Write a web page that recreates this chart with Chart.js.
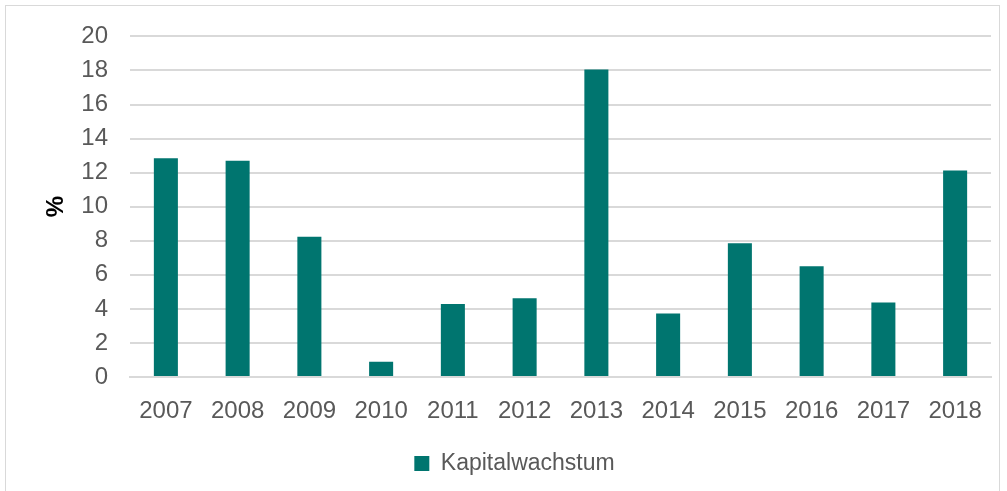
<!DOCTYPE html>
<html>
<head>
<meta charset="utf-8">
<script src="https://cdn.jsdelivr.net/npm/chart.js@4.4.1/dist/chart.umd.min.js"></script>
<style>
  html, body { margin: 0; padding: 0; background: #fff; }
  #wrap { position: relative; width: 1007px; height: 491px; overflow: hidden; }
  #frame { position: absolute; left: 5px; top: 5px; width: 995px; height: 500px; border: 1px solid #d9d9d9; box-sizing: border-box; }
  #kapital { position: absolute; left: 0; top: 0; }
</style>
</head>
<body>
<div id="wrap">
  <div id="frame"></div>
  <canvas id="kapital" width="1007" height="491"></canvas>
</div>
<script>
// Kapitalwachstum pro Jahr in %
const years = ["2007", "2008", "2009", "2010", "2011", "2012", "2013", "2014", "2015", "2016", "2017", "2018"];
const kapitalwachstum = [12.85, 12.7, 8.24, 0.9, 4.28, 4.63, 18.06, 3.73, 7.85, 6.51, 4.38, 12.12];
const yTicks = [0, 2, 4, 6, 8, 10, 12, 14, 16, 18, 20];

const fontFamily = "'Liberation Sans', Arial, sans-serif";
const grey = "#595959";

const chartdata = {
  labels: years,
  datasets: [
    {
      label: "Kapitalwachstum",
      backgroundColor: "#00756F",
      borderColor: "#00756F",
      borderWidth: 0,
      barPercentage: 0.5,
      categoryPercentage: 0.67,
      data: kapitalwachstum
    }
  ]
};

const config = {
  type: "bar",
  data: chartdata,
  options: {
    responsive: false,
    animation: false,
    layout: {
      padding: { left: 38, right: 16, top: 35, bottom: 6 }
    },
    plugins: {
      legend: {
        position: "bottom",
        labels: {
          boxWidth: 15,
          boxHeight: 15,
          color: grey,
          padding: 12,
          font: { family: fontFamily, size: 23 }
        }
      },
      tooltip: { enabled: false }
    },
    scales: {
      x: {
        grid: { display: false, drawTicks: false },
        border: { display: true, color: "#d9d9d9", width: 2 },
        ticks: {
          color: grey,
          padding: 20,
          font: { family: fontFamily, size: 24 }
        },
        afterFit: function(scale) {
          scale.height = 63;
        }
      },
      y: {
        min: 0,
        max: 20,
        afterBuildTicks: function(scale) {
          scale.ticks = yTicks.map(function(v) { return { value: v }; });
        },
        grid: { color: "#d9d9d9", lineWidth: 2, drawTicks: false },
        border: { display: false },
        ticks: {
          color: grey,
          padding: 22,
          font: { family: fontFamily, size: 24 }
        },
        title: {
          display: true,
          text: "%",
          color: "#000",
          font: { family: fontFamily, size: 24, weight: "bold" }
        },
        afterFit: function(scale) {
          scale.width = 92;
        }
      }
    }
  }
};

new Chart(document.getElementById("kapital"), config);
</script>
</body>
</html>
